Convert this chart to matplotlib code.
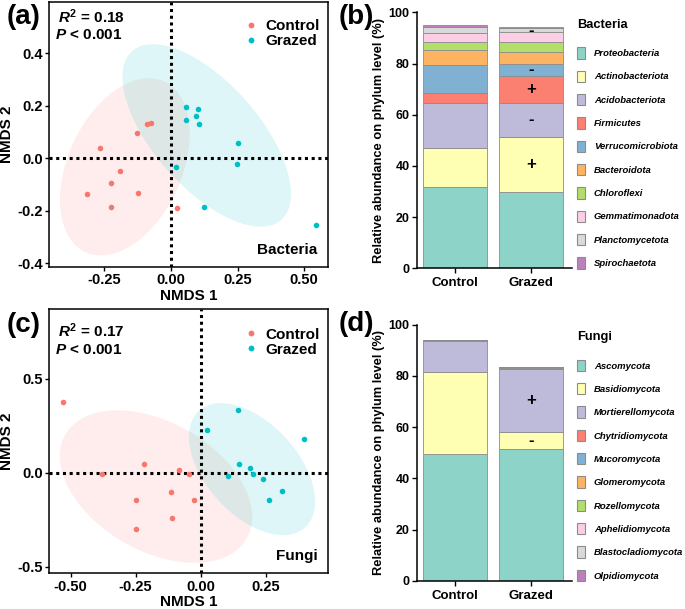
import numpy as np
import matplotlib
matplotlib.use("Agg")
import matplotlib.pyplot as plt
from matplotlib.patches import Patch
from matplotlib.lines import Line2D
from matplotlib.ticker import FormatStrFormatter

plt.rcParams['font.family'] = ['Liberation Sans', 'DejaVu Sans']
plt.rcParams['font.weight'] = 'bold'
plt.rcParams['axes.unicode_minus'] = False
plt.rcParams['mathtext.fontset'] = 'custom'
plt.rcParams['mathtext.rm'] = 'Liberation Sans:bold'
plt.rcParams['mathtext.it'] = 'Liberation Sans:italic:bold'
plt.rcParams['mathtext.bf'] = 'Liberation Sans:bold'

# --- data -------------------------------------------------------------
# NMDS bacteria
bac_ctrl_x = [-0.314, -0.264, -0.226, -0.226, -0.189, -0.128, -0.124, -0.090, -0.073, 0.023]
bac_ctrl_y = [-0.135, 0.038, -0.094, -0.185, -0.051, 0.094, -0.133, 0.131, 0.133, -0.192]
bac_graz_x = [0.056, 0.056, 0.103, 0.096, 0.105, 0.018, 0.250, 0.249, 0.123, 0.543]
bac_graz_y = [0.194, 0.147, 0.189, 0.161, 0.131, -0.032, 0.059, -0.022, -0.185, -0.256]

# NMDS fungi
fun_ctrl_x = [-0.528, -0.381, -0.218, -0.082, -0.044, -0.114, -0.249, -0.024, -0.109, -0.250]
fun_ctrl_y = [0.374, -0.007, 0.048, 0.014, -0.005, -0.101, -0.145, -0.147, -0.239, -0.300]
fun_graz_x = [0.023, 0.144, 0.396, 0.149, 0.190, 0.203, 0.105, 0.242, 0.314, 0.262]
fun_graz_y = [0.227, 0.333, 0.181, 0.048, 0.025, -0.009, -0.018, -0.035, -0.098, -0.147]

groups = ['Control', 'Grazed']

bac_phyla = ['Proteobacteria', 'Actinobacteriota', 'Acidobacteriota', 'Firmicutes',
             'Verrucomicrobiota', 'Bacteroidota', 'Chloroflexi', 'Gemmatimonadota',
             'Planctomycetota', 'Spirochaetota']
bac_ctrl = [31.9, 15.2, 17.6, 3.7, 11.2, 5.8, 3.1, 3.3, 2.6, 0.7]
bac_graz = [29.7, 21.7, 13.3, 10.4, 4.8, 4.7, 3.9, 3.7, 1.5, 0.5]
bac_signs = ['', '+', '-', '+', '-', '', '', '', '-', '']

fun_phyla = ['Ascomycota', 'Basidiomycota', 'Mortierellomycota', 'Chytridiomycota',
             'Mucoromycota', 'Glomeromycota', 'Rozellomycota', 'Aphelidiomycota',
             'Blastocladiomycota', 'Olpidiomycota']
fun_ctrl = [49.4, 32.1, 12.1, 0.1, 0.05, 0.05, 0.05, 0.05, 0.05, 0.05]
fun_graz = [51.4, 6.6, 24.6, 0.5, 0.1, 0.1, 0.05, 0.05, 0.1, 0.05]
fun_signs = ['', '-', '+', '', '', '', '', '', '', '']

set3 = ['#8DD3C7', '#FFFFB3', '#BEBADA', '#FB8072', '#80B1D3',
        '#FDB462', '#B3DE69', '#FCCDE5', '#D9D9D9', '#BC80BD']
red = '#F8766D'
cyan = '#00BFC4'


# robust covariance (like MASS::cov.trob) for the 95% ellipse (stat_ellipse)
def cov_trob(pts, nu=5, maxit=25, tol=0.01):
    n, p = pts.shape
    loc = pts.mean(axis=0)
    w = np.ones(n)
    for _ in range(maxit):
        w0 = w
        X = pts - loc
        _, d, vt = np.linalg.svd(np.sqrt(w / w.sum())[:, None] * X, full_matrices=False)
        wX = X @ vt.T @ np.diag(1 / d)
        Q = (wX ** 2).sum(axis=1)
        w = (nu + p) / (nu + Q)
        loc = (w[:, None] * pts).sum(axis=0) / w.sum()
        if np.all(np.abs(w - w0) < tol):
            break
    sX = np.sqrt(w)[:, None] * X
    return loc, sX.T @ sX / n


def ellipse_pts(x, y, level=0.95):
    pts = np.column_stack([x, y])
    n = len(x)
    loc, cov = cov_trob(pts)
    dfd = n - 1
    fq = dfd / 2 * ((1 - level) ** (-2 / dfd) - 1)   # qf(level, 2, dfd)
    radius = np.sqrt(2 * fq)
    t = np.linspace(0, 2 * np.pi, 200)
    L = np.linalg.cholesky(cov)
    e = loc[:, None] + radius * (L @ np.vstack([np.cos(t), np.sin(t)]))
    return e[0], e[1]


def nmds_panel(ax, cx, cy, gx, gy, r2, name, xlim, ylim, xticks, yticks, ty, ly):
    for x, y, c in [(cx, cy, red), (gx, gy, cyan)]:
        ex, ey = ellipse_pts(np.array(x), np.array(y))
        ax.fill(ex, ey, color=c, alpha=0.13, lw=0)
    ax.axhline(0, color='black', lw=2.2, ls=(0, (1, 1.2)))
    ax.axvline(0, color='black', lw=2.2, ls=(0, (1, 1.2)))
    ax.scatter(cx, cy, s=16, color=red, lw=0, zorder=3)
    ax.scatter(gx, gy, s=16, color=cyan, lw=0, zorder=3)
    ax.set_xlim(xlim)
    ax.set_ylim(ylim)
    ax.set_xticks(xticks)
    ax.set_yticks(yticks)
    ax.xaxis.set_major_formatter(FormatStrFormatter('%.2f'))
    ax.yaxis.set_major_formatter(FormatStrFormatter('%.1f'))
    ax.tick_params(labelsize=10.5, length=3, width=1, pad=1.5)
    for s in ax.spines.values():
        s.set_linewidth(1.1)
    ax.set_xlabel('NMDS 1', fontsize=11, fontweight='bold', labelpad=1)
    ax.set_ylabel('NMDS 2', fontsize=11, fontweight='bold', labelpad=2)
    ax.text(0.033, ty[0], '$R^2$ = %s' % r2, transform=ax.transAxes, fontsize=11,
            fontweight='bold', va='baseline')
    ax.text(0.022, ty[1], '$P$ < 0.001', transform=ax.transAxes, fontsize=11,
            fontweight='bold', va='baseline')
    ax.text(0.963, 0.05, name, transform=ax.transAxes, fontsize=11, fontweight='bold',
            ha='right', va='baseline')
    handles = [Line2D([], [], ls='', marker='o', ms=4.2, color=red, mec='none'),
               Line2D([], [], ls='', marker='o', ms=4.2, color=cyan, mec='none')]
    ax.legend(handles, groups, loc='upper right', bbox_to_anchor=(0.97, ly),
              frameon=False, handlelength=0.8, handletextpad=0.5,
              labelspacing=0.05, borderpad=0, borderaxespad=0,
              prop=dict(weight='bold', size=11))


def bar_panel(ax, phyla, ctrl, graz, signs, title):
    pos = np.array([1, 2])
    bottom = np.zeros(2)
    for i, ph in enumerate(phyla):
        vals = np.array([ctrl[i], graz[i]])
        ax.bar(pos, vals, 0.84, bottom=bottom, color=set3[i], edgecolor='#8c8c8c', lw=0.6)
        if signs[i]:
            ax.text(2, bottom[1] + vals[1] / 2, signs[i], ha='center', va='center',
                    fontsize=12, fontweight='bold')
        bottom += vals
    ax.set_xlim(0.496, 2.535)
    ax.set_ylim(0, 100)
    ax.set_yticks([0, 20, 40, 60, 80, 100])
    ax.set_xticks(pos)
    ax.set_xticklabels(groups)
    ax.spines['top'].set_visible(False)
    ax.spines['right'].set_visible(False)
    for s in ['left', 'bottom']:
        ax.spines[s].set_linewidth(1.1)
    ax.tick_params(axis='y', labelsize=9, length=3.5, width=1, pad=1.5)
    ax.tick_params(axis='x', labelsize=9.5, length=3.5, width=1, pad=3)
    ax.set_ylabel('Relative abundance on phylum level (%)', fontsize=9.3,
                  fontweight='bold', labelpad=3)
    handles = [Patch(facecolor=set3[i], edgecolor='#8c8c8c', lw=0.8) for i in range(len(phyla))]
    leg = ax.legend(handles, phyla, loc='upper left', bbox_to_anchor=(1.034, 0.975),
                    frameon=False, prop=dict(style='italic', weight='bold', size=6.8),
                    title=title, title_fontproperties=dict(weight='bold', size=9.3),
                    alignment='left', handlelength=0.88, handleheight=1.47,
                    labelspacing=1.27, handletextpad=0.9, borderpad=0, borderaxespad=0)
    leg._legend_box.sep = 12


fig = plt.figure(figsize=(6.85, 6.09), dpi=100)

ax_a = fig.add_axes([0.0715, 0.5616, 0.4073, 0.4351])
nmds_panel(ax_a, bac_ctrl_x, bac_ctrl_y, bac_graz_x, bac_graz_y, '0.18', 'Bacteria',
           (-0.457, 0.589), (-0.415, 0.595), [-0.25, 0, 0.25, 0.5], [-0.4, -0.2, 0, 0.2, 0.4],
           (0.92, 0.862), 0.935)

ax_c = fig.add_axes([0.0715, 0.0586, 0.4073, 0.4335])
nmds_panel(ax_c, fun_ctrl_x, fun_ctrl_y, fun_graz_x, fun_graz_y, '0.17', 'Fungi',
           (-0.583, 0.49), (-0.535, 0.869), [-0.5, -0.25, 0, 0.25], [-0.5, 0, 0.5],
           (0.896, 0.83), 0.93)

ax_b = fig.add_axes([0.6083, 0.5594, 0.2263, 0.4204])
bar_panel(ax_b, bac_phyla, bac_ctrl, bac_graz, bac_signs, 'Bacteria')

ax_d = fig.add_axes([0.6083, 0.046, 0.2263, 0.4208])
bar_panel(ax_d, fun_phyla, fun_ctrl, fun_graz, fun_signs, 'Fungi')

for lab, x, y in [('(a)', 0.010, 0.9606), ('(b)', 0.495, 0.9606),
                  ('(c)', 0.010, 0.455), ('(d)', 0.495, 0.457)]:
    fig.text(x, y, lab, fontsize=20, fontweight='bold', va='baseline')

fig.savefig('out.png', dpi=100)
